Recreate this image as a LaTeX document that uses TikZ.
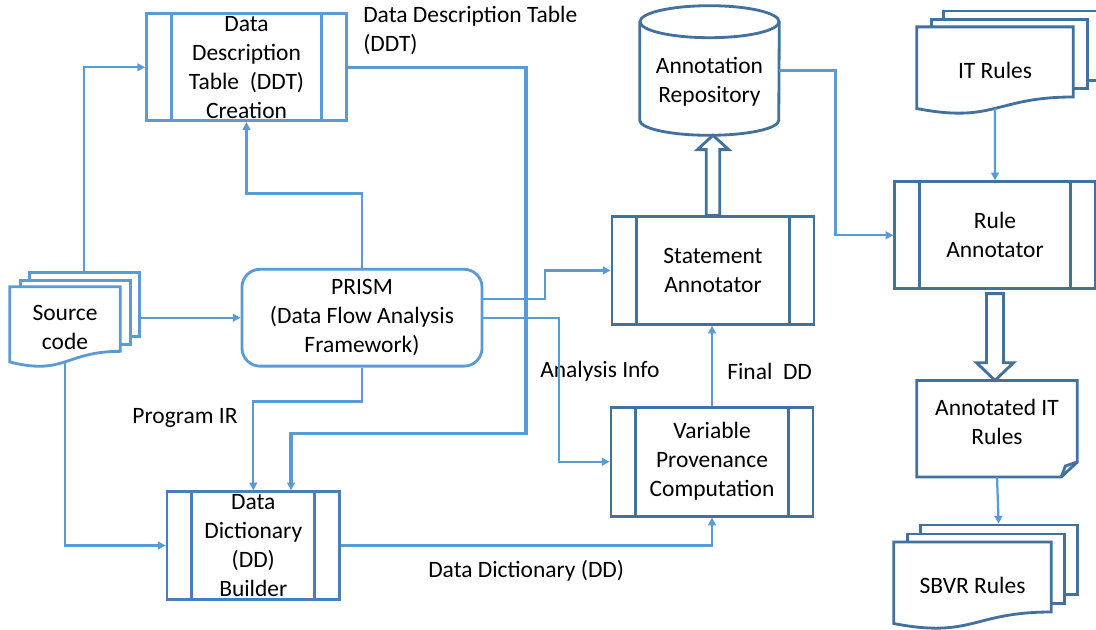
\documentclass[tikz,border=0pt]{standalone}
\usepackage{fontspec}
\setmainfont{Carlito}
\usepackage{xcolor}
\usepackage{tikz}
\usetikzlibrary{arrows.meta, calc, positioning, backgrounds}

\definecolor{linkblue}{HTML}{5B9BD5}
\definecolor{boxblue}{HTML}{41719C}
\definecolor{midblue}{HTML}{4A7EBB}

\newcommand{\diagfont}{\fontsize{16.7pt}{20.6pt}\selectfont}

% document outline with a wavy lower edge
\newcommand{\docoutline}[2]{%
  \draw[docline, draw=#2] (#1.north west) -- (#1.north east)
    -- ($(#1.north east)!0.802!(#1.south east)$)
    .. controls ($(#1.north)!0.802!(#1.south)$) and ($(#1.north)!1.107!(#1.south)$)
    .. ($(#1.north west)!0.934!(#1.south west)$) -- cycle;}

\begin{document}
\begin{tikzpicture}[
        x=0.025cm, y=-0.025cm,
        >={Triangle[length=5.5pt, width=5.5pt]},
        every node/.style={font=\diagfont, inner sep=0pt, align=center},
        arrow/.style={->, draw=linkblue, line width=1.6pt},
        procbox/.style={rectangle, draw=#1, line width=2pt,
            path picture={\draw[#1, line width=2pt]
                ([xshift=0.62cm]path picture bounding box.north west) -- ([xshift=0.62cm]path picture bounding box.south west)
                ([xshift=-0.62cm]path picture bounding box.north east) -- ([xshift=-0.62cm]path picture bounding box.south east);}},
        procbox/.default=boxblue,
        doctext/.style={rectangle, text=black},
        pagebox/.style={rectangle, draw=#1, fill=white, line width=2pt},
        docline/.style={fill=white, line width=2pt},
        blockarrow/.style={draw=boxblue, fill=white, line width=2pt, line join=miter},
        tag/.style={align=left}
    ]

    \useasboundingbox (0,0) rectangle (1096,630);
    \begin{scope}[on background layer]
        \fill[white] (0,0) rectangle (1096,630);
    \end{scope}

    % left part
    \node[procbox=linkblue, minimum width=5cm, minimum height=2.67cm, inner ysep=-3pt] (ddt) at (246.5,67.3) {Data\\Description\\Table~~(DDT)\\Creation};
    \node[rectangle, draw=linkblue, line width=2pt, rounded corners=0.45cm, minimum width=6cm, minimum height=2.42cm] (prism) at (362,317.7) {PRISM\\(Data Flow Analysis\\Framework)};
    \node[doctext, minimum width=2.75cm, minimum height=2cm] (src) at (65,327) {Source\\code};
    \node[procbox=midblue, minimum width=4.31cm, minimum height=2.69cm, inner ysep=-3pt] (ddb) at (253.3,545.5) {Data\\Dictionary\\(DD)\\Builder};

    % middle part
    \node[minimum width=3.475cm, minimum height=2.825cm, label={[yshift=-2pt]center:{Annotation\\Repository}}] (repo) at (709.5,78.5) {};
    \node[procbox, minimum width=5.05cm, minimum height=2.69cm] (sa) at (713,270.5) {Statement\\Annotator};
    \node[procbox, minimum width=5.05cm, minimum height=2.72cm] (vp) at (712,461.7) {Variable\\Provenance\\Computation};

    % right part
    \node[doctext, minimum width=3.9cm, minimum height=2.17cm] (it) at (995,70.6) {IT Rules};
    \node[procbox, minimum width=5.01cm, minimum height=2.675cm] (ra) at (995,235.3) {Rule\\Annotator};
    \node[minimum width=4cm, minimum height=2.4cm, label={[yshift=5pt]center:{Annotated IT\\Rules}}] (ait) at (997,428.7) {};
    \node[doctext, minimum width=3.925cm, minimum height=2.17cm] (sbvr) at (972.5,585.6) {SBVR Rules};

    % edge texts
    \node[tag, anchor=west] (ddtlabel) at (363,30) {Data Description Table\\(DDT)};
    \node (irlabel) at (185,418.3) {Program IR};
    \node[anchor=west] (infolabel) at (540,371.7) {Analysis Info};
    \node[anchor=west] (finallabel) at (727,371.7) {Final~~DD};
    \node[anchor=west] (ddlabel) at (428,570.7) {Data Dictionary (DD)};

    % stacked pages
    \begin{scope}[on background layer]
        \node[pagebox=linkblue, anchor=north west, minimum width=2.75cm, minimum height=1.6cm] (src3) at ($(src.north west)+(18,-16)$) {};
        \node[pagebox=linkblue, anchor=north west, minimum width=2.75cm, minimum height=1.6cm] (src2) at ($(src.north west)+(9,-8)$) {};
        \docoutline{src}{linkblue}
        \node[pagebox=boxblue, anchor=north west, minimum width=3.9cm, minimum height=1.73cm] (it3) at ($(it.north west)+(25.5,-17.3)$) {};
        \node[pagebox=boxblue, anchor=north west, minimum width=3.9cm, minimum height=1.73cm] (it2) at ($(it.north west)+(13,-9)$) {};
        \docoutline{it}{boxblue}
        \node[pagebox=boxblue, anchor=north west, minimum width=3.925cm, minimum height=1.74cm] (sbvr3) at ($(sbvr.north west)+(25,-18.3)$) {};
        \node[pagebox=boxblue, anchor=north west, minimum width=3.925cm, minimum height=1.74cm] (sbvr2) at ($(sbvr.north west)+(12.5,-9.3)$) {};
        \docoutline{sbvr}{boxblue}
    \end{scope}

    % repository drum
    \draw[boxblue, line width=2pt] (repo.north) ellipse [x radius=1.7375cm, y radius=0.4cm];
    \draw[boxblue, line width=2pt] (repo.north west) -- ($(repo.south west)+(0,-15)$)
        arc[start angle=180, end angle=360, x radius=1.7375cm, y radius=0.375cm] -- (repo.north east);

    % folded note
    \draw[boxblue, line width=2pt, line join=miter] (ait.north west) -- (ait.north east) -- ($(ait.south east)+(0,-15)$)
        -- ($(ait.south east)+(-16,0)$) -- (ait.south west) -- cycle;
    \draw[boxblue, line width=2pt] ($(ait.south east)+(-16,0)$) -- ($(ait.south east)+(-12,-11)$) -- ($(ait.south east)+(0,-15)$);

    % connectors
    \draw[arrow] (src3.north) |- (ddt.west);
    \draw[arrow] (src3.east |- prism.west) -- (prism.west);
    \draw[arrow] ($(src.north)!0.933!(src.south)$) |- (ddb.west);
    \draw[arrow] (prism.north) -- ++(0,-74.3) -| (ddt.south);
    \draw[arrow] (prism.south) -- ++(0,34) -| (ddb.north);
    \draw[arrow, line width=2.4pt] (ddt.east) -| (526,433.3) -| ($(ddb.north)+(37.7,0)$);
    \draw[arrow] ($(prism.east)+(0,-18.4)$) -| ($(sa.west)+(-65.3,0)$) -- (sa.west);
    \draw[arrow] (prism.east) -| ($(vp.west)+(-50.3,0)$) -- (vp.west);
    \draw[arrow] (vp.north) -- (vp.north |- sa.south);
    \draw[arrow] (ddb.east) -| (vp.south);
    \draw[arrow] ($(repo.east)+(0,-8)$) -| ($(ra.west)+(-58,0)$) -- (ra.west);
    \draw[arrow] ($(it.north)!0.933!(it.south)$) -- (ra.north);
    \draw[arrow] (ait.south) -- (sbvr3.north);

    % hollow block arrows
    \draw[blockarrow] ($(sa.north)+(-6.7,0)$) -- ($(sa.north |- repo.south)+(-6.7,14.3)$) -- ++(-8.9,0)
        -- (sa.north |- repo.south) -- ($(sa.north |- repo.south)+(15.6,14.3)$) -- ++(-8.9,0)
        -- ($(sa.north)+(6.7,0)$) -- cycle;
    \draw[blockarrow] ($(ra.south)+(-8.5,3.4)$) -- ($(ra.south |- ait.north)+(-8.5,-17.7)$) -- ++(-10,0)
        -- (ra.south |- ait.north) -- ($(ra.south |- ait.north)+(18.5,-17.7)$) -- ++(-10,0)
        -- ($(ra.south)+(8.5,3.4)$) -- cycle;

\end{tikzpicture}
\end{document}
